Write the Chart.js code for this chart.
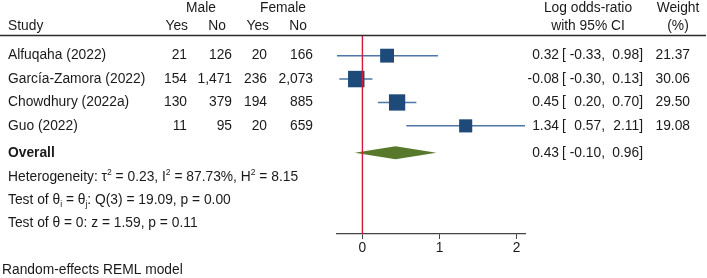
<!DOCTYPE html>
<html><head><meta charset="utf-8">
<script src="https://cdn.jsdelivr.net/npm/chart.js@4"></script>
<style>html,body{margin:0;padding:0;background:#fff}canvas{display:block}</style>
</head><body>
<canvas id="c" width="707" height="278"></canvas>
<script>
// ---------- data ----------
const studies   = ['Alfuqaha (2022)', 'García-Zamora (2022)', 'Chowdhury (2022a)', 'Guo (2022)'];
const maleYes   = [21, 154, 130, 11];
const maleNo    = [126, 1471, 379, 95];
const femaleYes = [20, 236, 194, 20];
const femaleNo  = [166, 2073, 885, 659];
const logOR     = [0.32, -0.08, 0.45, 1.34];
const ciLow     = [-0.33, -0.30, 0.20, 0.57];
const ciHigh    = [0.98, 0.13, 0.70, 2.11];
const weights   = [21.37, 30.06, 29.50, 19.08];
const overallEst = 0.43, overallLow = -0.10, overallHigh = 0.96;
const xTicks    = [0, 1, 2];
const tau2 = '0.23', i2 = '87.73', h2 = '8.15';
const qDf = 3, qStat = '19.09', qP = '0.00';
const zStat = '1.59', zP = '0.11';

// ---------- layout / style ----------
const FONT = '"Liberation Sans", Arial, Helvetica, sans-serif';
const FS = 13.8;
const TXT = '#1a1a1a';
const Y_MIN = 0.16, Y_MAX = 8.62;
const studyRows = studies.map((s, i) => i + 1);
const OVERALL_ROW = 5.15;
const STAT_ROWS = [6.2, 7.18, 8.15];

const fmtN = v => v.toLocaleString('en-US');
const f2 = v => v.toFixed(2);

function rich(ctx, parts, x, y) {
  let cx = x;
  for (const [t, m] of parts) {
    const fs = m === 'n' ? FS : FS * 0.62;
    ctx.font = `${fs}px ${FONT}`;
    const dy = m === 'sup' ? -FS * 0.33 : (m === 'sub' ? FS * 0.28 : 0);
    ctx.fillText(t, cx, y + dy);
    cx += ctx.measureText(t).width;
  }
}

function ciText(ctx, est, lo, hi, y) {
  ctx.textAlign = 'right';
  ctx.fillText(f2(est), 559, y);
  ctx.textAlign = 'left';
  ctx.fillText('[', 562, y);
  ctx.textAlign = 'right';
  ctx.fillText(f2(lo) + ',', 605, y);
  ctx.fillText(f2(hi) + ']', 643, y);
}

const tablePlugin = {
  id: 'table',
  beforeDatasetsDraw(chart) {
    const ctx = chart.ctx, xs = chart.scales.x, ys = chart.scales.y;
    const yc = ys.getPixelForValue(OVERALL_ROW);
    const h = 6.5;
    ctx.save();
    ctx.beginPath();
    ctx.moveTo(xs.getPixelForValue(overallLow), yc);
    ctx.lineTo(xs.getPixelForValue(overallEst), yc - h);
    ctx.lineTo(xs.getPixelForValue(overallHigh), yc);
    ctx.lineTo(xs.getPixelForValue(overallEst), yc + h);
    ctx.closePath();
    ctx.fillStyle = '#58792b';
    ctx.fill();
    ctx.restore();
  },
  afterDraw(chart) {
    const ctx = chart.ctx, ys = chart.scales.y, ca = chart.chartArea;
    ctx.save();
    ctx.fillStyle = TXT;
    ctx.textBaseline = 'middle';
    ctx.font = `${FS}px ${FONT}`;
    // header
    const h1 = 8, h2y = 26;
    ctx.textAlign = 'center';
    ctx.fillText('Male', 201, h1);
    ctx.fillText('Female', 283, h1);
    ctx.fillText('Log odds-ratio', 588, h1);
    ctx.fillText('with 95% CI', 588, h2y);
    ctx.fillText('Weight', 678, h1);
    ctx.fillText('(%)', 678, h2y);
    ctx.textAlign = 'left';
    ctx.fillText('Study', 8, h2y);
    ctx.textAlign = 'right';
    ctx.fillText('Yes', 188, h2y);
    ctx.fillText('No', 226, h2y);
    ctx.fillText('Yes', 269, h2y);
    ctx.fillText('No', 307, h2y);
    // header rule
    ctx.strokeStyle = '#2a2a2a';
    ctx.lineWidth = 1.5;
    ctx.beginPath();
    ctx.moveTo(0, ca.top - 0.5);
    ctx.lineTo(706, ca.top - 0.5);
    ctx.stroke();
    // study rows
    studies.forEach((s, i) => {
      const y = ys.getPixelForValue(studyRows[i]);
      ctx.textAlign = 'left';
      ctx.fillText(s, 8, y);
      ctx.textAlign = 'right';
      ctx.fillText(fmtN(maleYes[i]), 187, y);
      ctx.fillText(fmtN(maleNo[i]), 232, y);
      ctx.fillText(fmtN(femaleYes[i]), 267, y);
      ctx.fillText(fmtN(femaleNo[i]), 313, y);
      ciText(ctx, logOR[i], ciLow[i], ciHigh[i], y);
      ctx.textAlign = 'right';
      ctx.fillText(f2(weights[i]), 690, y);
    });
    // overall
    const yo = ys.getPixelForValue(OVERALL_ROW);
    ctx.textAlign = 'left';
    ctx.font = `bold ${FS}px ${FONT}`;
    ctx.fillText('Overall', 8, yo);
    ctx.font = `${FS}px ${FONT}`;
    ciText(ctx, overallEst, overallLow, overallHigh, yo);
    // stats
    ctx.textAlign = 'left';
    rich(ctx, [['Heterogeneity: τ', 'n'], ['2', 'sup'], [` = ${tau2}, I`, 'n'], ['2', 'sup'],
               [` = ${i2}%, H`, 'n'], ['2', 'sup'], [` = ${h2}`, 'n']], 8, ys.getPixelForValue(STAT_ROWS[0]));
    rich(ctx, [['Test of θ', 'n'], ['i', 'sub'], [' = θ', 'n'], ['j', 'sub'],
               [`: Q(${qDf}) = ${qStat}, p = ${qP}`, 'n']], 8, ys.getPixelForValue(STAT_ROWS[1]));
    rich(ctx, [[`Test of θ = 0: z = ${zStat}, p = ${zP}`, 'n']], 8, ys.getPixelForValue(STAT_ROWS[2]));
    ctx.font = `${FS}px ${FONT}`;
    ctx.fillText('Random-effects REML model', 2, 270);
    ctx.restore();
  }
};

new Chart(document.getElementById('c'), {
  type: 'scatter',
  data: {
    datasets: [
      { type: 'line', data: [{ x: 0, y: Y_MIN }, { x: 0, y: Y_MAX }],
        borderColor: '#d2193c', borderWidth: 1.4, pointRadius: 0 },
      { data: studies.map((s, i) => ({ x: logOR[i], y: studyRows[i] })),
        pointStyle: 'rect',
        pointRadius: weights.map(w => 3.0 * Math.sqrt(w) / Math.SQRT2),
        backgroundColor: '#1d4a79', borderWidth: 0 },
      ...studies.map((s, i) => ({
        type: 'line',
        data: [{ x: ciLow[i], y: studyRows[i] }, { x: ciHigh[i], y: studyRows[i] }],
        borderColor: '#4d77a6', borderWidth: 1.5, pointRadius: 0
      }))
    ]
  },
  options: {
    responsive: false, animation: false, devicePixelRatio: 1,
    layout: { padding: { left: 337, right: 182, top: 36, bottom: 0 } },
    plugins: { legend: { display: false }, tooltip: { enabled: false } },
    scales: {
      x: {
        type: 'linear',
        min: Math.min(...ciLow), max: Math.max(...ciHigh),
        afterBuildTicks: s => { s.ticks = xTicks.map(v => ({ value: v })); },
        afterFit: s => { s.height = 44; },
        grid: { display: true, drawOnChartArea: false, drawTicks: true, tickLength: 5, color: '#444' },
        border: { display: true, color: '#444', width: 1.2 },
        ticks: { color: TXT, font: { family: FONT, size: FS }, padding: 1, maxRotation: 0, autoSkip: false }
      },
      y: { type: 'linear', display: false, min: Y_MIN, max: Y_MAX, reverse: true }
    }
  },
  plugins: [tablePlugin]
});
</script>
</body></html>
